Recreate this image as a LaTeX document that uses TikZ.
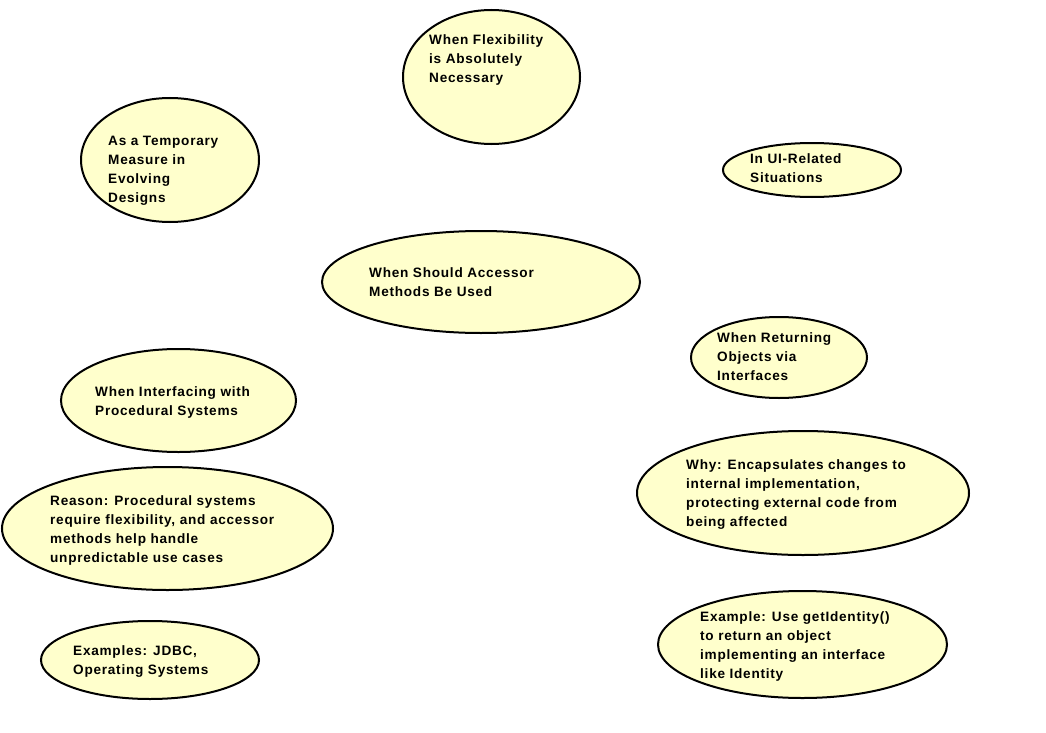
\documentclass[tikz,border=0pt]{standalone}
\usepackage{fontspec}
\usepackage{tikz}
\usetikzlibrary{shapes.geometric}
\newfontfamily\bubblefont{Liberation Sans}[LetterSpace=5.5]
\definecolor{myellow}{RGB}{255, 255, 204}
\tikzset{bubble/.style = {ellipse, draw, fill = myellow, line width = 2, inner sep = 0}}
\tikzset{note/.style = {anchor = north west, inner sep = 0, align = left,
    font = \bubblefont\bfseries\fontsize{13.6}{19}\selectfont}}

\begin{document}
\begin{tikzpicture}[x=1pt, y=-1pt]
    \useasboundingbox (0, 0) rectangle (1046, 733);

    \node [bubble, minimum width = 177, minimum height = 134] (flex) at (491.5, 77) {};
    \node [bubble, minimum width = 178, minimum height = 124] (temp) at (170, 160) {};
    \node [bubble, minimum width = 178, minimum height = 54] (ui) at (812, 170) {};
    \node [bubble, minimum width = 318, minimum height = 102] (accessor) at (481, 282) {};
    \node [bubble, minimum width = 176, minimum height = 81] (returning) at (779, 357.5) {};
    \node [bubble, minimum width = 235, minimum height = 103] (procedural) at (178.5, 400.5) {};
    \node [bubble, minimum width = 332, minimum height = 124] (why) at (803, 493) {};
    \node [bubble, minimum width = 331, minimum height = 123] (reason) at (167.5, 528.5) {};
    \node [bubble, minimum width = 218, minimum height = 78] (examples) at (150, 660) {};
    \node [bubble, minimum width = 289, minimum height = 107] (getid) at (802.5, 644.5) {};

    \node [note] (flextext) at (429, 34.5) {When Flexibility\\is Absolutely\\Necessary};
    \node [note] (temptext) at (108, 135.5) {As a Temporary\\Measure in\\Evolving\\Designs};
    \node [note] (uitext) at (750, 153.5) {In UI-Related\\Situations};
    \node [note] (accessortext) at (369, 267.5) {When Should Accessor\\Methods Be Used};
    \node [note] (returningtext) at (717, 332.5) {When Returning\\Objects via\\Interfaces};
    \node [note] (proceduraltext) at (95, 386.5) {When Interfacing with\\Procedural Systems};
    \node [note] (whytext) at (686, 459.5) {Why: Encapsulates changes to\\internal implementation,\\protecting external code from\\being affected};
    \node [note] (reasontext) at (50, 495.5) {Reason: Procedural systems\\require flexibility, and accessor\\methods help handle\\unpredictable use cases};
    \node [note] (examplestext) at (73, 645.5) {Examples: JDBC,\\Operating Systems};
    \node [note] (getidtext) at (700, 611.5) {Example: Use getIdentity()\\to return an object\\implementing an interface\\like Identity};
  \end{tikzpicture}
\end{document}
